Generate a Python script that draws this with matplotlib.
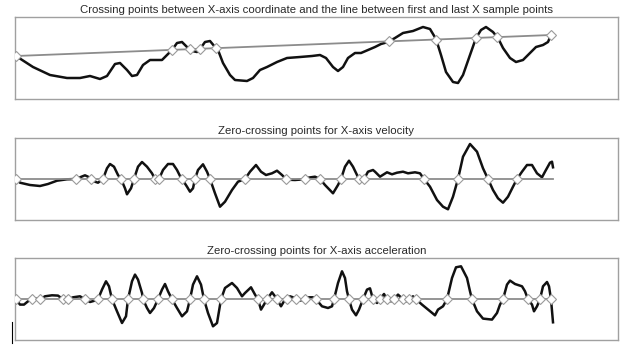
import numpy as np
import matplotlib
matplotlib.use('Agg')
import matplotlib.pyplot as plt
from matplotlib.lines import Line2D

plt.rcParams['font.family'] = ['Liberation Sans', 'DejaVu Sans']

# X-axis coordinate (sample index, value)
coord_t = [0, 17, 34, 51, 64, 74, 84, 91, 99, 104, 111, 116, 121, 127, 134, 146, 151, 156, 161,
           166, 171, 176, 181, 184, 189, 194, 199, 202, 207, 214, 219, 231, 237, 244, 251, 261,
           271, 284, 296, 304, 310, 317, 322, 327, 332, 339, 345, 352, 359, 365, 372, 379, 387,
           397, 407, 414, 420, 425, 430, 437, 442, 447, 454, 460, 465, 470, 477, 482, 487, 494,
           500, 507, 514, 520, 527, 532, 535]
coord_v = [43, 32, 24, 21, 21, 23, 20, 23, 35, 36, 29, 23, 24, 34, 39, 39, 44, 49, 56, 57, 52,
           48, 47, 50, 57, 58, 52, 49, 36, 24, 19, 18, 21, 29, 32, 37, 41, 42, 43, 44, 41, 32,
           28, 32, 41, 46, 46, 49, 52, 55, 57, 61, 66, 68, 72, 70, 60, 44, 27, 17, 16, 24, 44,
           61, 69, 72, 67, 61, 51, 41, 37, 39, 46, 52, 54, 57, 64]

# X-axis velocity
vel_t = [0, 4, 14, 24, 32, 41, 51, 60, 64, 69, 72, 75, 79, 82, 87, 91, 94, 98, 102, 105, 109,
         111, 115, 118, 122, 126, 131, 136, 139, 141, 143, 147, 152, 157, 161, 164, 166, 171,
         174, 177, 179, 182, 187, 191, 194, 199, 204, 209, 216, 222, 229, 234, 240, 245, 250,
         256, 261, 266, 270, 274, 279, 284, 289, 292, 299, 304, 309, 317, 322, 325, 329, 333,
         337, 341, 343, 346, 348, 352, 357, 359, 364, 371, 376, 381, 387, 392, 399, 404, 408,
         414, 421, 427, 432, 437, 442, 447, 454, 461, 467, 472, 477, 482, 487, 492, 497, 501,
         506, 511, 516, 521, 526, 529, 534, 536, 537]
vel_v = [0, -3.7, -6, -7, -5, -1.7, -0.3, 0, 1.7, 3.7, 2.3, 0, -2.7, -3.7, 0, 10.7, 15, 12.3, 4,
         0, -9.3, -15.3, -9.3, 0, 12.3, 17, 12.3, 5.7, 0, -1, 0, 9, 15, 15, 9, 3, 0, -7.7, -12.7,
         -9.3, 0, 9, 14.7, 7.3, 0, -14.3, -27.7, -22.7, -11, -2.7, 0, 7.3, 14, 7.3, 4, 5.7, 8.3,
         4, 0, -0.8, -1, -0.6, 0, 1.3, 2.3, 0, -6, -14.3, -6, 0, 12.3, 18.3, 12.3, 4, 0, -2.7, 0,
         7.3, 9, 7.3, 2.3, 6.7, 4.7, 6.3, 7.3, 5.7, 6.7, 5.7, 0, -7.7, -21, -27.7, -30.3, -17.7,
         0, 22.3, 35, 27.3, 10.7, 0, -11, -19.3, -23.7, -17.7, -7.7, 0, 7.3, 14, 14, 5.7, 1.7,
         7.3, 16.3, 17.3, 11.7]

# X-axis acceleration
acc_t = [0, 4, 8, 12, 16, 19, 24, 29, 36, 42, 47, 50, 52, 57, 64, 69, 74, 79, 82, 86, 90, 93,
         96, 101, 106, 110, 112, 116, 119, 122, 126, 127, 131, 134, 138, 142, 146, 149, 152,
         156, 161, 166, 171, 174, 177, 181, 185, 188, 192, 197, 201, 205, 209, 216, 221, 226,
         229, 235, 239, 242, 245, 248, 251, 256, 259, 261, 265, 268, 271, 274, 277, 280, 284,
         289, 292, 297, 300, 306, 312, 316, 318, 322, 326, 329, 331, 333, 336, 340, 343, 347,
         351, 354, 357, 361, 364, 368, 371, 375, 378, 382, 387, 390, 393, 397, 400, 406, 412,
         419, 422, 427, 431, 436, 440, 445, 451, 454, 456, 461, 467, 476, 481, 484, 487, 491,
         494, 499, 506, 509, 512, 516, 518, 521, 524, 527, 531, 533, 535, 537]
acc_v = [0, -5.3, -5.3, -2, 0, 0.7, 0, 3, 4, 3.7, 0, -1.3, 0, 2, 3, 0, -2.7, -1.3, 0, 9.7, 18,
         13, 0, -12, -23.7, -17, 0, 18, 24.7, 19.7, 6.3, 0, -8.7, -13.7, -8.7, 0, 9.7, 15.3, 8,
         0, -8.7, -17, -12, 0, 14.7, 23, 14.7, 0, -13.7, -27, -23.7, 0, 11.3, 16.3, 11.3, 3,
         6.3, 12, 4.7, 0, -10.3, -5.3, 0, 7, 3, 0, -7, -2, 0, 3, 2, 0, -1.3, 0, 2, 2, 0, -7,
         -8.7, -7, 0, 16.3, 28, 21.3, 8, 0, -10.3, -16, -10.3, 0, 9.7, 11, 0, -3.7, 0, 5.3, 0,
         -2, 0, 4.7, 0, -2, 0, 3, 0, -5.3, -10.3, -16, -10.3, -7, 0, 21.3, 32, 33, 21.3, 8, 0,
         -12, -19.3, -20.3, -13.7, -5.3, 0, 14.7, 18.7, 15.3, 13, 8, 0, -5.3, -12, -7, 0, 13,
         17.3, 13, 0, -23]

TITLES = [
    'Crossing points between X-axis coordinate and the line between first and last X sample points',
    'Zero-crossing points for X-axis velocity',
    'Zero-crossing points for X-axis acceleration',
]

CURVE_COLOR = '#111111'
REF_COLOR = '#8c8c8c'
FRAME_COLOR = '#a0a0a0'


def crossings(t, d):
    """Positions where d touches or changes sign (linear between samples)."""
    t = np.asarray(t, float)
    d = np.asarray(d, float)
    pts = list(t[np.isclose(d, 0)])
    for i in range(len(d) - 1):
        if d[i] * d[i + 1] < 0:
            pts.append(t[i] - d[i] * (t[i + 1] - t[i]) / (d[i + 1] - d[i]))
    return np.sort(pts)


def plot_panel(ax, t, v, ref, title, ylim):
    t = np.asarray(t, float)
    v = np.asarray(v, float)
    ref_v = ref(t)
    ax.plot(t, v, color=CURVE_COLOR, lw=1.8, zorder=2, solid_joinstyle='round')
    ax.plot([t[0], t[-1]], [ref(t[0]), ref(t[-1])], color=REF_COLOR, lw=1.3, zorder=3)
    xc = crossings(t, v - ref_v)
    ax.plot(xc, ref(xc), linestyle='none', marker='D', markersize=5.2,
            markerfacecolor='white', markeredgecolor='#9a9a9a', markeredgewidth=0.8, zorder=4)

    ax.set_xlim(-1, 602)
    ax.set_ylim(*ylim)
    ax.set_xticks([])
    ax.set_yticks([])
    for s in ax.spines.values():
        s.set_color(FRAME_COLOR)
        s.set_linewidth(1.0)
    ax.set_title(title, fontsize=8.2, color='#2a2a2a', pad=3)


def main():
    fig = plt.figure(figsize=(6.26, 3.46), dpi=100)
    W, H = 626, 346

    def box(top, bottom):
        return [15 / W, 1 - bottom / H, 603 / W, (bottom - top) / H]

    ax1 = fig.add_axes(box(17, 99))
    ax2 = fig.add_axes(box(138, 220))
    ax3 = fig.add_axes(box(258, 340))

    t0, t1 = coord_t[0], coord_t[-1]
    v0, v1 = coord_v[0], coord_v[-1]
    first_last = lambda x: v0 + (v1 - v0) * (np.asarray(x, float) - t0) / (t1 - t0)
    zero = lambda x: np.zeros_like(np.asarray(x, float))

    plot_panel(ax1, coord_t, coord_v, first_last, TITLES[0], (0, 82))
    plot_panel(ax2, vel_t, vel_v, zero, TITLES[1], (-41, 41))
    plot_panel(ax3, acc_t, acc_v, zero, TITLES[2], (-40.7, 41.3))

    fig.add_artist(Line2D([12 / W, 12 / W], [1 - 322 / H, 1 - 343 / H], color='black', lw=0.8))

    fig.savefig('out.png', dpi=100)


if __name__ == '__main__':
    main()
